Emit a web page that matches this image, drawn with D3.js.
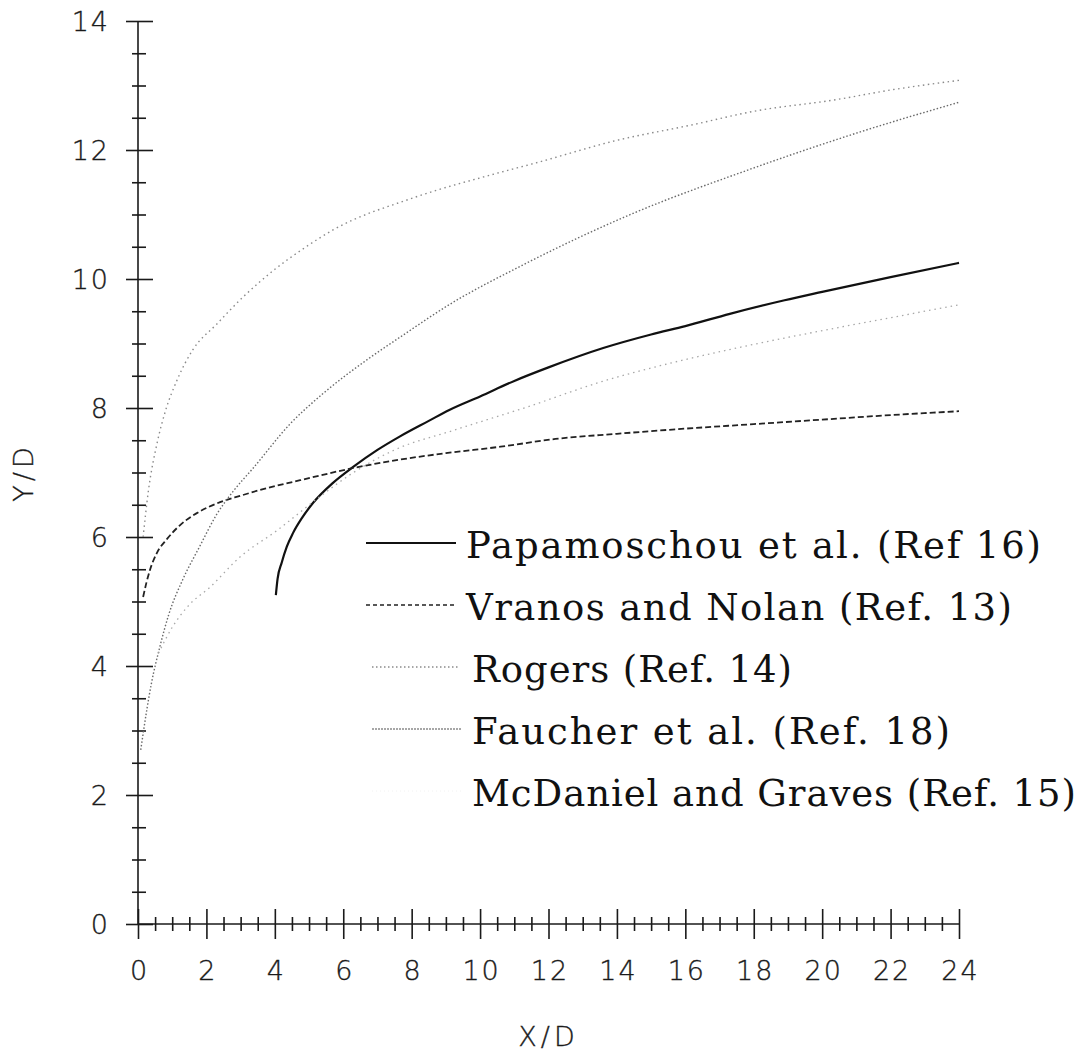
<!DOCTYPE html>
<html>
<head>
<meta charset="utf-8">
<script src="https://cdn.jsdelivr.net/npm/d3@7"></script>
<style>
  html, body { margin: 0; padding: 0; background: #fff; }
  svg { display: block; }
</style>
</head>
<body>
<svg id="chart" width="1088" height="1053"></svg>
<script>
// Jet penetration correlations, Y/D against X/D

// Papamoschou et al. (Ref 16)
const papamoschou = [
  [4.03, 5.1], [4.08, 5.35], [4.2, 5.6], [4.35, 5.85], [4.53, 6.06], [4.8, 6.3],
  [5.12, 6.53], [5.7, 6.84], [6.3, 7.09], [7.0, 7.35], [7.66, 7.56], [8.5, 7.8],
  [9.1, 7.97], [10, 8.18], [11, 8.42], [12, 8.63], [13.6, 8.93], [15, 9.14],
  [16, 9.27], [17.3, 9.46], [18.9, 9.67], [20, 9.8], [22, 10.03], [24, 10.25]
];

// Vranos and Nolan (Ref. 13)
const vranosNolan = [
  [0.15, 5.07], [0.25, 5.3], [0.35, 5.49], [0.55, 5.75], [0.85, 5.97], [1.2, 6.17],
  [1.72, 6.37], [2.4, 6.54], [3.0, 6.64], [3.57, 6.73], [4.74, 6.88], [6.3, 7.07],
  [7.66, 7.2], [9.0, 7.3], [10.6, 7.4], [12.2, 7.52], [14, 7.6], [16, 7.68],
  [18, 7.75], [20, 7.82], [22, 7.89], [24, 7.95]
];

// Rogers (Ref. 14)
const rogers = [
  [0.15, 6.0], [0.3, 6.7], [0.56, 7.46], [0.8, 7.95], [1.14, 8.43], [1.6, 8.9],
  [2.3, 9.3], [3.07, 9.72], [4.0, 10.15], [4.86, 10.48], [5.7, 10.76], [8.0, 11.25],
  [10.5, 11.64], [11.7, 11.81], [14, 12.15], [16.2, 12.39], [18, 12.6],
  [20.4, 12.78], [22, 12.93], [24, 13.08]
];

// Faucher et al. (Ref. 18)
const faucher = [
  [0.08, 2.7], [0.15, 2.95], [0.26, 3.33], [0.4, 3.75], [0.64, 4.3], [0.9, 4.8],
  [1.3, 5.33], [1.8, 5.85], [2.3, 6.35], [2.8, 6.72], [3.37, 7.07], [4.44, 7.75],
  [5.4, 8.22], [6.7, 8.75], [7.75, 9.13], [9.03, 9.58], [11.26, 10.22],
  [14.53, 11.03], [17.78, 11.68], [21.05, 12.27], [24, 12.74]
];

// McDaniel and Graves (Ref. 15)
const mcdanielGraves = [
  [0.6, 4.2], [1.0, 4.6], [1.5, 4.95], [2.1, 5.22], [2.98, 5.69], [4.06, 6.1],
  [5.3, 6.62], [6.3, 7.0], [7.5, 7.35], [9.2, 7.65], [11.4, 8.02], [13.5, 8.4],
  [15.6, 8.7], [17.5, 8.93], [20.4, 9.24], [22, 9.4], [24, 9.6]
];

const xMajorTicks = [0, 2, 4, 6, 8, 10, 12, 14, 16, 18, 20, 22, 24];
const yMajorTicks = [0, 2, 4, 6, 8, 10, 12, 14];
const xLabel = "X/D";
const yLabel = "Y/D";

const legendLabels = [
  "Papamoschou et al. (Ref 16)",
  "Vranos and Nolan (Ref. 13)",
  "Rogers (Ref. 14)",
  "Faucher et al. (Ref. 18)",
  "McDaniel and Graves (Ref. 15)"
];

const svg = d3.select("#chart");

const x = d3.scaleLinear().domain([0, 24]).range([138, 959]);
const y = d3.scaleLinear().domain([0, 14]).range([924, 21]);

const tickFont = "'DejaVu Sans', sans-serif";
const ink = "#1a1a1a";

function styleTickText(sel) {
  sel.attr("font-family", tickFont).attr("font-size", 27).attr("font-weight", 200)
    .attr("fill", ink).attr("stroke", ink).attr("stroke-width", 0.35)
    .attr("letter-spacing", 2);
}

// ---- X axis: minor ticks every 0.5, major every 2, both crossing the line
const xMinor = d3.range(0, 24.001, 0.5).filter(v => v % 2 !== 0);
const gxMinor = svg.append("g")
  .attr("transform", `translate(0,${y(0)})`)
  .call(d3.axisBottom(x).tickValues(xMinor).tickSize(7).tickFormat(""));
gxMinor.select(".domain").remove();
gxMinor.selectAll(".tick line").attr("y1", -7).attr("stroke", ink).attr("stroke-width", 1.6);

const gxMajor = svg.append("g")
  .attr("transform", `translate(0,${y(0)})`)
  .call(d3.axisBottom(x).tickValues(xMajorTicks).tickSize(15).tickPadding(22).tickFormat(d3.format("d")));
gxMajor.select(".domain").remove();
gxMajor.selectAll(".tick line").attr("y1", -15).attr("stroke", ink).attr("stroke-width", 1.6);
gxMajor.selectAll(".tick text").call(styleTickText).attr("dy", "0.71em").attr("dx", 1);

// ---- Y axis
const yMinor = d3.range(0, 14.001, 0.5).filter(v => v % 2 !== 0);
const gyMinor = svg.append("g")
  .attr("transform", `translate(${x(0)},0)`)
  .call(d3.axisLeft(y).tickValues(yMinor).tickSize(6).tickFormat(""));
gyMinor.select(".domain").remove();
gyMinor.selectAll(".tick line").attr("x2", 8).attr("x1", -6).attr("stroke", ink).attr("stroke-width", 1.6);

const gyMajor = svg.append("g")
  .attr("transform", `translate(${x(0)},0)`)
  .call(d3.axisLeft(y).tickValues(yMajorTicks).tickSize(12).tickPadding(16).tickFormat(d3.format("d")));
gyMajor.select(".domain").remove();
gyMajor.selectAll(".tick line").attr("x1", -12).attr("x2", 15).attr("stroke", ink).attr("stroke-width", 1.6);
gyMajor.selectAll(".tick text").call(styleTickText).attr("dy", "0.36em");

// axis lines
svg.append("line")
  .attr("x1", x(0)).attr("x2", x(24)).attr("y1", y(0)).attr("y2", y(0))
  .attr("stroke", ink).attr("stroke-width", 1.6);
svg.append("line")
  .attr("x1", x(0)).attr("x2", x(0)).attr("y1", y(0)).attr("y2", y(14))
  .attr("stroke", ink).attr("stroke-width", 1.6);

// axis titles
svg.append("text")
  .attr("x", (x(0) + x(24)) / 2).attr("y", 1046)
  .attr("text-anchor", "middle")
  .call(styleTickText).attr("letter-spacing", 4)
  .text(xLabel);
svg.append("text")
  .attr("transform", `translate(33,${(y(0) + y(14)) / 2}) rotate(-90)`)
  .attr("text-anchor", "middle")
  .call(styleTickText).attr("letter-spacing", 4)
  .text(yLabel);

// ---- curves
const line = d3.line().x(d => x(d[0])).y(d => y(d[1])).curve(d3.curveMonotoneX);

const series = [
  { data: papamoschou,    stroke: "#111", width: 2.2, dash: null },
  { data: vranosNolan,    stroke: "#222", width: 1.8, dash: "6,3" },
  { data: rogers,         stroke: "#8a8a8a", width: 1.4, dash: "1.5,3.5" },
  { data: faucher,        stroke: "#6a6a6a", width: 1.4, dash: "1.5,2" },
  { data: mcdanielGraves, stroke: "#a8a8a8", width: 1.3, dash: "1.5,4" }
];

svg.append("g").selectAll("path")
  .data(series)
  .join("path")
  .attr("d", s => line(s.data))
  .attr("fill", "none")
  .attr("stroke", s => s.stroke)
  .attr("stroke-width", s => s.width)
  .attr("stroke-dasharray", s => s.dash);

// ---- legend
const legendKeys = [
  { x1: 366, x2: 456, stroke: "#111", width: 2.2, dash: null, tx: 466, w: 575 },
  { x1: 366, x2: 456, stroke: "#222", width: 1.6, dash: "4,3", tx: 466, w: 546 },
  { x1: 372, x2: 460, stroke: "#8a8a8a", width: 1.4, dash: "1.5,2.5", tx: 472, w: 320 },
  { x1: 372, x2: 462, stroke: "#8a8a8a", width: 1.4, dash: "2,1", tx: 472, w: 478 },
  { x1: 372, x2: 462, stroke: "#f2f2f2", width: 1.0, dash: "1,3", tx: 472, w: 604 }
];
const legendTop = 545, legendStep = 62;

const lg = svg.append("g").selectAll("g")
  .data(legendLabels)
  .join("g")
  .attr("transform", (d, i) => `translate(0,${legendTop + i * legendStep})`);

lg.append("line")
  .attr("x1", (d, i) => legendKeys[i].x1).attr("x2", (d, i) => legendKeys[i].x2)
  .attr("y1", -2).attr("y2", -2)
  .attr("stroke", (d, i) => legendKeys[i].stroke)
  .attr("stroke-width", (d, i) => legendKeys[i].width)
  .attr("stroke-dasharray", (d, i) => legendKeys[i].dash);

lg.append("text")
  .attr("x", (d, i) => legendKeys[i].tx)
  .attr("y", 13)
  .attr("font-family", "'DejaVu Serif', serif")
  .attr("font-size", 37)
  .attr("fill", "#111")
  .attr("textLength", (d, i) => legendKeys[i].w)
  .attr("lengthAdjust", "spacing")
  .text(d => d);
</script>
</body>
</html>
